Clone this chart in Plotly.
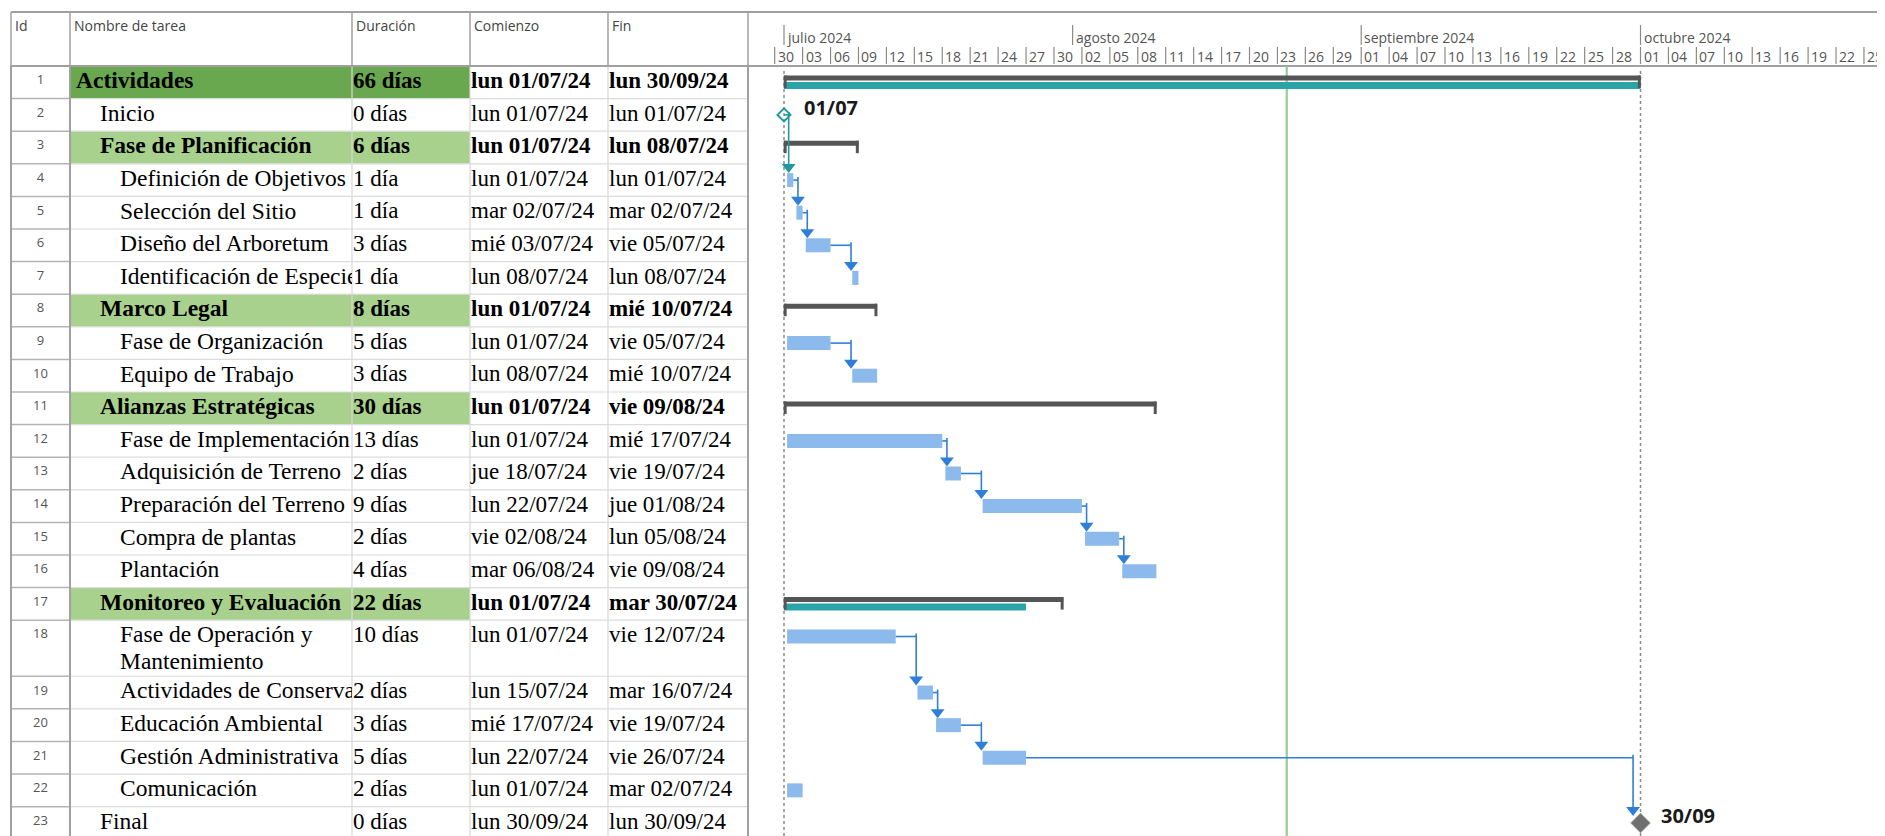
import pandas as pd
import plotly.graph_objects as go

# The page body has an 8px margin, so the figure is drawn 8px in from the
# top-left corner; all pixel constants below are in window pixels.
WIN_W, WIN_H = 1885, 836
OFF = 8
W, H = WIN_W - OFF, WIN_H - OFF

# ------------------------------------------------------------------ data
TASK_IDS = list(range(1, 24))
TASK_NAMES = [
    "Actividades", "Inicio", "Fase de Planificación", "Definición de Objetivos",
    "Selección del Sitio", "Diseño del Arboretum", "Identificación de Especies",
    "Marco Legal", "Fase de Organización", "Equipo de Trabajo", "Alianzas Estratégicas",
    "Fase de Implementación", "Adquisición de Terreno", "Preparación del Terreno",
    "Compra de plantas", "Plantación", "Monitoreo y Evaluación",
    "Fase de Operación y<br>Mantenimiento", "Actividades de Conservación",
    "Educación Ambiental", "Gestión Administrativa", "Comunicación", "Final",
]
OUTLINE_LEVELS = [1, 2, 2, 3, 3, 3, 3, 2, 3, 3, 2, 3, 3, 3, 3, 3, 2, 3, 3, 3, 3, 3, 2]
TASK_TYPES = ["summary", "milestone", "summary", "task", "task", "task", "task",
              "summary", "task", "task", "summary", "task", "task", "task", "task",
              "task", "summary", "task", "task", "task", "task", "task", "milestone"]
DURATIONS = ["66 días", "0 días", "6 días", "1 día", "1 día", "3 días", "1 día",
             "8 días", "5 días", "3 días", "30 días", "13 días", "2 días", "9 días",
             "2 días", "4 días", "22 días", "10 días", "2 días", "3 días", "5 días",
             "2 días", "0 días"]
START_DATES = ["2024-07-01", "2024-07-01", "2024-07-01", "2024-07-01", "2024-07-02",
               "2024-07-03", "2024-07-08", "2024-07-01", "2024-07-01", "2024-07-08",
               "2024-07-01", "2024-07-01", "2024-07-18", "2024-07-22", "2024-08-02",
               "2024-08-06", "2024-07-01", "2024-07-01", "2024-07-15", "2024-07-17",
               "2024-07-22", "2024-07-01", "2024-09-30"]
FINISH_DATES = ["2024-09-30", "2024-07-01", "2024-07-08", "2024-07-01", "2024-07-02",
                "2024-07-05", "2024-07-08", "2024-07-10", "2024-07-05", "2024-07-10",
                "2024-08-09", "2024-07-17", "2024-07-19", "2024-08-01", "2024-08-05",
                "2024-08-09", "2024-07-30", "2024-07-12", "2024-07-16", "2024-07-19",
                "2024-07-26", "2024-07-02", "2024-09-30"]
ROLLUP_BARS = {1: ("2024-07-01", "2024-09-30"), 17: ("2024-07-01", "2024-07-26")}
LINKS = [(2, 4), (4, 5), (5, 6), (6, 7), (9, 10), (12, 13), (13, 14), (14, 15),
         (15, 16), (18, 19), (19, 20), (20, 21), (21, 23)]
CRITICAL_LINKS = [(2, 4)]
STATUS_DATE = "2024-08-24"
COLUMN_HEADERS = ["Id", "Nombre de tarea", "Duración", "Comienzo", "Fin"]
MONTH_STARTS = ["2024-07-01", "2024-08-01", "2024-09-01", "2024-10-01"]
MONTH_LABELS = ["julio 2024", "agosto 2024", "septiembre 2024", "octubre 2024"]
DAY_TICK_FIRST, DAY_TICK_LAST, DAY_TICK_STEP = "2024-06-27", "2024-10-25", "3D"
WEEKDAYS_ES = ["lun", "mar", "mié", "jue", "vie", "sáb", "dom"]

# ------------------------------------------------------------------ layout constants (window px)
COL_EDGES = [11, 70, 352, 470, 608, 748]
HEADER_TOP, HEADER_BOTTOM = 12, 66
ROW_PX = 32.6
DOUBLE_ROW = 1.72
GANTT_LEFT, JUL1_PX, PX_PER_DAY = 748, 784, 9.31
INDENT = {1: 6, 2: 30, 3: 50}

SERIF = "Liberation Serif"
SANS = "Open Sans"
BLUE = "#2f7fd9"
TEAL = "#1d9aa0"
BAR_BLUE = "#8dbaec"
GRAY_SUM = "#555555"


def u(px):
    return px / ROW_PX


def pxx(p):
    return (p - OFF) / W


def pxy(p):
    return 1 - (p - OFF) / H


DAY = pd.Timedelta(days=1)
jul1 = pd.Timestamp("2024-07-01")
x_range = [jul1 - DAY * ((JUL1_PX - GANTT_LEFT) / PX_PER_DAY),
           jul1 + DAY * ((OFF + W - JUL1_PX) / PX_PER_DAY)]

heights = [DOUBLE_ROW if "<br>" in n else 1.0 for n in TASK_NAMES]
tops = []
acc = 0.0
for h in heights:
    tops.append(acc)
    acc += h
centers = [t + u(16.3) for t in tops]
idx = {tid: i for i, tid in enumerate(TASK_IDS)}
starts = [pd.Timestamp(s) for s in START_DATES]
finishes = [pd.Timestamp(f) for f in FINISH_DATES]
successors = {s for _, s in LINKS}


def fmt_date(ts):
    return f"{WEEKDAYS_ES[ts.weekday()]} {ts.strftime('%d/%m/%y')}"


def milestone_x(i):
    return finishes[i] + DAY if TASK_IDS[i] in successors else starts[i]


fig = go.Figure()

# ------------------------------------------------------------------ gantt bars
task_i = [i for i, t in enumerate(TASK_TYPES) if t == "task"]
t_start = [starts[i] + pd.Timedelta(hours=8) for i in task_i]
t_end = [finishes[i] + DAY for i in task_i]
fig.add_trace(go.Bar(
    orientation="h", base=t_start,
    x=[(e - s).total_seconds() * 1000 for s, e in zip(t_start, t_end)],
    y=[centers[i] for i in task_i], width=u(14),
    marker=dict(color=BAR_BLUE, line=dict(width=0)), hoverinfo="skip",
    xaxis="x", yaxis="y", showlegend=False))

sum_i = [i for i, t in enumerate(TASK_TYPES) if t == "summary"]
s_start = [starts[i] for i in sum_i]
s_end = [finishes[i] + DAY for i in sum_i]
fig.add_trace(go.Bar(
    orientation="h", base=s_start,
    x=[(e - s).total_seconds() * 1000 for s, e in zip(s_start, s_end)],
    y=[tops[i] + u(12) for i in sum_i], width=u(5),
    marker=dict(color=GRAY_SUM, line=dict(width=0)), hoverinfo="skip",
    xaxis="x", yaxis="y", showlegend=False))

r_ids = list(ROLLUP_BARS.keys())
r_start = [pd.Timestamp(ROLLUP_BARS[k][0]) for k in r_ids]
r_end = [pd.Timestamp(ROLLUP_BARS[k][1]) + DAY for k in r_ids]
fig.add_trace(go.Bar(
    orientation="h", base=r_start,
    x=[(e - s).total_seconds() * 1000 for s, e in zip(r_start, r_end)],
    y=[tops[idx[k]] + u(19.5) for k in r_ids], width=u(7),
    marker=dict(color="#2aa3a9", line=dict(width=0)), hoverinfo="skip",
    xaxis="x", yaxis="y", showlegend=False))

# summary end brackets
bx, by = [], []
for i, s, e in zip(sum_i, s_start, s_end):
    for xx in (s + pd.Timedelta(hours=3), e - pd.Timedelta(hours=3)):
        bx += [xx, xx, None]
        by += [tops[i] + u(9.5), tops[i] + u(22), None]
fig.add_trace(go.Scatter(x=bx, y=by, mode="lines", line=dict(color=GRAY_SUM, width=3),
                         hoverinfo="skip", xaxis="x", yaxis="y", showlegend=False))


# ------------------------------------------------------------------ links
def link_geometry(p, s):
    pi, si = idx[p], idx[s]
    p_end = milestone_x(pi) if TASK_TYPES[pi] == "milestone" else finishes[pi] + DAY
    xv = max(p_end + DAY * 0.5, starts[si] + DAY * 0.2)
    tip = centers[si] - u(7)
    return p_end, xv, centers[pi], tip


for color, group in ((BLUE, [l for l in LINKS if l not in CRITICAL_LINKS]),
                     (TEAL, CRITICAL_LINKS)):
    lx, ly, ax, ay = [], [], [], []
    for p, s in group:
        p_end, xv, yp, tip = link_geometry(p, s)
        lx += [p_end, xv, None, xv, xv, None]
        ly += [yp, yp, None, yp - u(3), tip - u(6), None]
        ax.append(xv)
        ay.append(tip - u(6))
    fig.add_trace(go.Scatter(x=lx, y=ly, mode="lines", line=dict(color=color, width=1.6),
                             hoverinfo="skip", xaxis="x", yaxis="y", showlegend=False))
    fig.add_trace(go.Scatter(x=ax, y=ay, mode="markers",
                             marker=dict(symbol="triangle-down", size=12, color=color,
                                         line=dict(width=0)),
                             hoverinfo="skip", xaxis="x", yaxis="y", showlegend=False))

# ------------------------------------------------------------------ milestones
ms_i = [i for i, t in enumerate(TASK_TYPES) if t == "milestone"]
for i in ms_i:
    first = TASK_IDS[i] not in successors
    mx = milestone_x(i)
    if first:
        fig.add_trace(go.Scatter(
            x=[mx], y=[centers[i]], mode="markers",
            marker=dict(symbol="diamond-open", size=10, color=TEAL, line=dict(width=2, color=TEAL)),
            hoverinfo="skip", xaxis="x", yaxis="y", showlegend=False))
    else:
        fig.add_trace(go.Scatter(
            x=[mx], y=[centers[i]], mode="markers",
            marker=dict(symbol="diamond", size=15, color="#6f6f6f", line=dict(width=1, color="#9a9a9a")),
            hoverinfo="skip", xaxis="x", yaxis="y", showlegend=False))
    fig.add_annotation(x=mx, y=centers[i], xref="x", yref="y", text=finishes[i].strftime("%d/%m"),
                       showarrow=False, xanchor="left", yanchor="middle", xshift=18, yshift=7,
                       font=dict(family=SANS, size=20, color="#1a1a1a", weight="bold"))

# ------------------------------------------------------------------ table text
col_w = [COL_EDGES[k + 1] - COL_EDGES[k] for k in range(5)]

fig.add_trace(go.Scatter(
    x=[col_w[0] / 2] * len(TASK_IDS), y=[t + u(15) for t in tops],
    text=[str(t) for t in TASK_IDS], mode="text", textposition="middle center",
    textfont=dict(family=SANS, size=13, color="#555555"), cliponaxis=True,
    hoverinfo="skip", xaxis="x2", yaxis="y", showlegend=False))

nx, ny, nt = [], [], []
for i, name in enumerate(TASK_NAMES):
    for k, line in enumerate(name.split("<br>")):
        nx.append(INDENT[OUTLINE_LEVELS[i]])
        ny.append(centers[i] + k * u(27))
        nt.append(f"<b>{line}</b>" if TASK_TYPES[i] == "summary" else line)
fig.add_trace(go.Scatter(
    x=nx, y=ny, text=nt, mode="text", textposition="middle right",
    textfont=dict(family=SERIF, size=23.5, color="#000000"), cliponaxis=True,
    hoverinfo="skip", xaxis="x3", yaxis="y", showlegend=False))

for axis_name, values in (("x4", DURATIONS), ("x5", [fmt_date(s) for s in starts]),
                          ("x6", [fmt_date(f) for f in finishes])):
    fig.add_trace(go.Scatter(
        x=[1] * len(values), y=centers,
        text=[f"<b>{v}</b>" if TASK_TYPES[i] == "summary" else v for i, v in enumerate(values)],
        mode="text", textposition="middle right",
        textfont=dict(family=SERIF, size=23, color="#000000"), cliponaxis=True,
        hoverinfo="skip", xaxis=axis_name, yaxis="y", showlegend=False))

# ------------------------------------------------------------------ shapes
shapes = []
for i in sum_i:
    shapes.append(dict(type="rect", xref="paper", yref="y", x0=pxx(COL_EDGES[1] + 0.5),
                       x1=pxx(COL_EDGES[3]), y0=tops[i], y1=tops[i] + heights[i],
                       fillcolor="#6aa84f" if OUTLINE_LEVELS[i] == 1 else "#a9d18e",
                       line=dict(width=0), layer="below"))
for i in range(len(TASK_IDS)):
    yb = tops[i] + heights[i]
    shapes.append(dict(type="line", xref="paper", yref="y", x0=pxx(COL_EDGES[1]),
                       x1=pxx(COL_EDGES[5]), y0=yb, y1=yb,
                       line=dict(color="#dcdcdc", width=1.2), layer="below"))
    shapes.append(dict(type="line", xref="paper", yref="y", x0=pxx(COL_EDGES[0]),
                       x1=pxx(COL_EDGES[1]), y0=yb, y1=yb,
                       line=dict(color="#b4b4b4", width=1.5), layer="below"))
for k, xe in enumerate(COL_EDGES):
    dark = k in (0, 1, 5)
    shapes.append(dict(type="line", xref="paper", yref="paper", x0=pxx(xe), x1=pxx(xe),
                       y0=pxy(HEADER_BOTTOM), y1=0,
                       line=dict(color="#a0a0a0" if dark else "#d8d8d8",
                                 width=2 if dark else 1.2), layer="below"))
    shapes.append(dict(type="line", xref="paper", yref="paper", x0=pxx(xe), x1=pxx(xe),
                       y0=pxy(HEADER_TOP), y1=pxy(HEADER_BOTTOM),
                       line=dict(color="#a0a0a0", width=1.5), layer="below"))
for yy in (HEADER_TOP, HEADER_BOTTOM):
    shapes.append(dict(type="line", xref="paper", yref="paper", x0=pxx(COL_EDGES[0]), x1=1,
                       y0=pxy(yy), y1=pxy(yy), line=dict(color="#a0a0a0", width=2), layer="below"))
for m in MONTH_STARTS:
    shapes.append(dict(type="line", xref="x", yref="paper", x0=m, x1=m,
                       y0=pxy(25), y1=pxy(45), line=dict(color="#8a8a8a", width=1.2)))
day_ticks = pd.date_range(DAY_TICK_FIRST, DAY_TICK_LAST, freq=DAY_TICK_STEP)
for d in day_ticks:
    shapes.append(dict(type="line", xref="x", yref="paper", x0=d, x1=d,
                       y0=pxy(47), y1=pxy(64), line=dict(color="#8a8a8a", width=1.2)))
shapes.append(dict(type="line", xref="x", yref="paper", x0=STATUS_DATE, x1=STATUS_DATE,
                   y0=0, y1=pxy(HEADER_BOTTOM), line=dict(color="#92cf92", width=2.2), layer="below"))
for d in (starts[0], finishes[0] + DAY):
    shapes.append(dict(type="line", xref="x", yref="paper", x0=d, x1=d,
                       y0=0, y1=pxy(HEADER_BOTTOM + 2),
                       line=dict(color="#8c8c8c", width=1.5, dash="dot"), layer="below"))

# ------------------------------------------------------------------ header texts
for k, label in enumerate(COLUMN_HEADERS):
    fig.add_annotation(x=pxx(COL_EDGES[k] + 2), y=pxy(26), xref="paper", yref="paper",
                       text=label, showarrow=False, xanchor="left", yanchor="middle",
                       font=dict(family=SANS, size=14, color="#444444"))
for m, label in zip(MONTH_STARTS, MONTH_LABELS):
    fig.add_annotation(x=m, y=pxy(37), xref="x", yref="paper", text=label, showarrow=False,
                       xanchor="left", yanchor="middle", xshift=1,
                       font=dict(family=SANS, size=14, color="#555555"))
for d in day_ticks:
    fig.add_annotation(x=d, y=pxy(56), xref="x", yref="paper", text=d.strftime("%d"),
                       showarrow=False, xanchor="left", yanchor="middle", xshift=1,
                       font=dict(family=SANS, size=14, color="#555555"))

# ------------------------------------------------------------------ axes
y_bottom = (OFF + H - HEADER_BOTTOM) / ROW_PX
layout = dict(
    width=W, height=H, margin=dict(l=0, r=0, t=0, b=0),
    paper_bgcolor="white", plot_bgcolor="rgba(0,0,0,0)",
    barmode="overlay", showlegend=False, shapes=shapes,
    xaxis=dict(type="date", domain=[pxx(GANTT_LEFT), 1], range=x_range, visible=False,
               anchor="y", fixedrange=True),
    yaxis=dict(domain=[0, pxy(HEADER_BOTTOM)], range=[y_bottom, 0], visible=False,
               anchor="x", fixedrange=True),
)
for k in range(5):
    layout[f"xaxis{k + 2}"] = dict(domain=[pxx(COL_EDGES[k]), pxx(COL_EDGES[k + 1])],
                                   range=[0, col_w[k]], visible=False, anchor="y",
                                   fixedrange=True)
fig.update_layout(**layout)

fig.write_html("out.html")
